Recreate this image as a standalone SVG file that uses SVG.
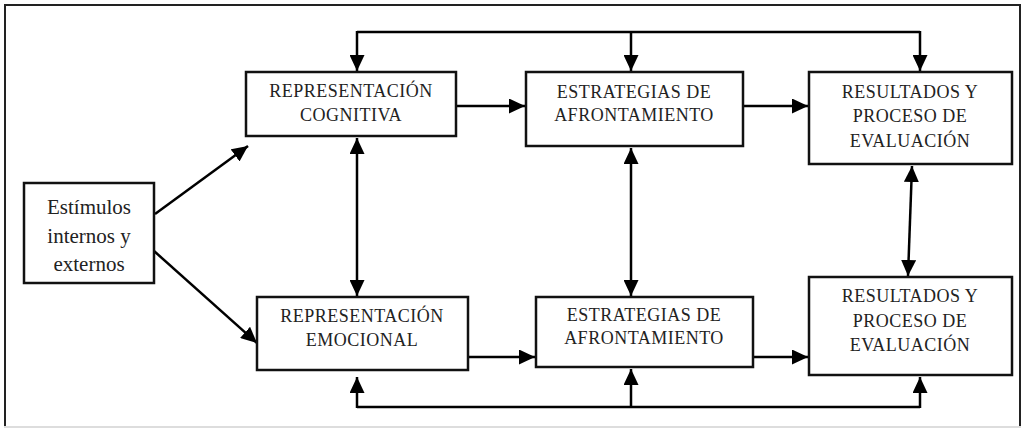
<svg xmlns="http://www.w3.org/2000/svg" width="1021" height="428" viewBox="0 0 1021 428">
<style>
.box{fill:#fff;stroke:#111;stroke-width:2.5}
.t{font-family:"Liberation Serif","Times New Roman",serif;font-size:18px;letter-spacing:0.5px;fill:#222;text-anchor:middle}
.ts{font-family:"Liberation Serif","Times New Roman",serif;font-size:21px;fill:#222;text-anchor:middle}
.ln{fill:none;stroke:#000;stroke-width:2.5}
.frame{fill:none;stroke:#222;stroke-width:2}
</style>
<defs>
<marker id="ah" markerUnits="userSpaceOnUse" markerWidth="17" markerHeight="15" viewBox="0 0 17 15" refX="16" refY="7.5" orient="auto-start-reverse">
<path d="M0,0 L16,7.5 L0,15 z" fill="#000"/>
</marker>
</defs>
<rect width="1021" height="428" fill="#fff"/>
<path class="frame" d="M5,427 L5,5 L1020,5 L1020,427"/>
<line x1="4" y1="427" x2="1021" y2="427" stroke="#ddd" stroke-width="2"/>

<g id="connectors">
<path class="ln" d="M357,32 L920,32"/>
<line class="ln" x1="357" y1="31" x2="357" y2="71" marker-end="url(#ah)"/>
<line class="ln" x1="631" y1="31" x2="631" y2="71" marker-end="url(#ah)"/>
<line class="ln" x1="920" y1="31" x2="920" y2="71" marker-end="url(#ah)"/>
<path class="ln" d="M357,407 L920,407"/>
<line class="ln" x1="357" y1="408" x2="357" y2="377" marker-end="url(#ah)"/>
<line class="ln" x1="631" y1="408" x2="631" y2="369" marker-end="url(#ah)"/>
<line class="ln" x1="920" y1="408" x2="920" y2="377" marker-end="url(#ah)"/>
<line class="ln" x1="456" y1="106" x2="525" y2="106" marker-end="url(#ah)"/>
<line class="ln" x1="743" y1="106" x2="808" y2="106" marker-end="url(#ah)"/>
<line class="ln" x1="468" y1="357" x2="535" y2="357" marker-end="url(#ah)"/>
<line class="ln" x1="753" y1="357" x2="808" y2="357" marker-end="url(#ah)"/>
<line class="ln" x1="155" y1="214" x2="248" y2="146" marker-end="url(#ah)"/>
<line class="ln" x1="154" y1="251" x2="257" y2="343" marker-end="url(#ah)"/>
<line class="ln" x1="357" y1="138" x2="357" y2="296" marker-start="url(#ah)" marker-end="url(#ah)"/>
<line class="ln" x1="631" y1="148" x2="631" y2="296" marker-start="url(#ah)" marker-end="url(#ah)"/>
<line class="ln" x1="912" y1="166" x2="908" y2="276" marker-start="url(#ah)" marker-end="url(#ah)"/>
</g>

<g id="estimulos">
<rect class="box" x="24" y="183" width="130" height="100"/>
<text class="ts" x="89" y="214">Estímulos</text>
<text class="ts" x="89" y="243">internos y</text>
<text class="ts" x="89" y="271">externos</text>
</g>

<g id="rep-cognitiva">
<rect class="box" x="246" y="72" width="210" height="64"/>
<text class="t" x="351" y="97">REPRESENTACIÓN</text>
<text class="t" x="351" y="121">COGNITIVA</text>
</g>

<g id="estrategias-1">
<rect class="box" x="526" y="72" width="217" height="74"/>
<text class="t" x="634" y="98">ESTRATEGIAS DE</text>
<text class="t" x="634" y="121">AFRONTAMIENTO</text>
</g>

<g id="resultados-1">
<rect class="box" x="809" y="72" width="203" height="92"/>
<text class="t" x="910" y="98">RESULTADOS Y</text>
<text class="t" x="910" y="122">PROCESO DE</text>
<text class="t" x="910" y="147">EVALUACIÓN</text>
</g>

<g id="rep-emocional">
<rect class="box" x="257" y="297" width="211" height="73"/>
<text class="t" x="362" y="322">REPRESENTACIÓN</text>
<text class="t" x="362" y="346">EMOCIONAL</text>
</g>

<g id="estrategias-2">
<rect class="box" x="536" y="297" width="217" height="70"/>
<text class="t" x="644" y="321">ESTRATEGIAS DE</text>
<text class="t" x="644" y="344">AFRONTAMIENTO</text>
</g>

<g id="resultados-2">
<rect class="box" x="809" y="277" width="203" height="98"/>
<text class="t" x="910" y="302">RESULTADOS Y</text>
<text class="t" x="910" y="327">PROCESO DE</text>
<text class="t" x="910" y="351">EVALUACIÓN</text>
</g>
</svg>
